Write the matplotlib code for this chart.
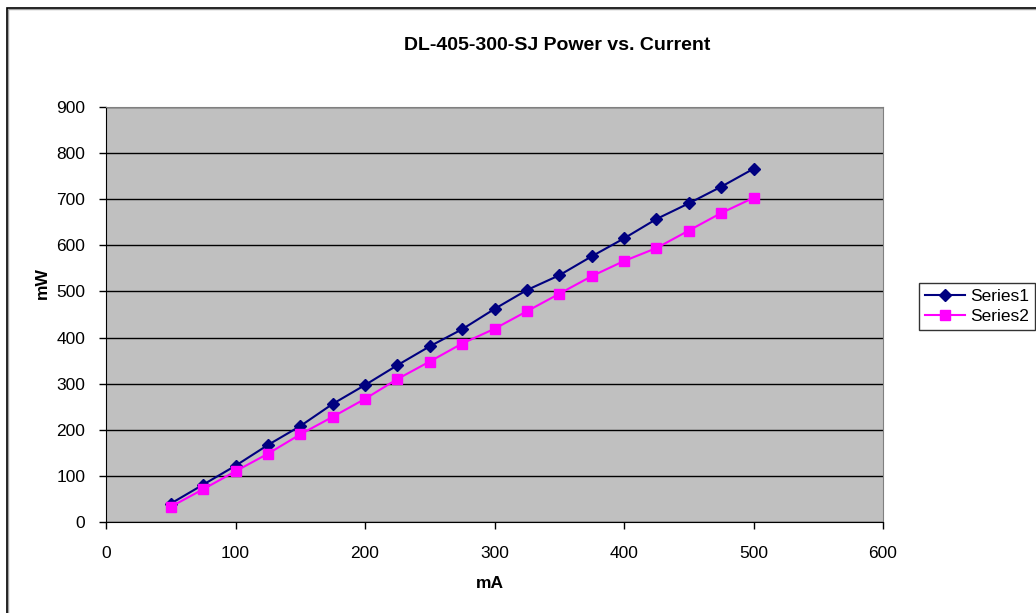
import matplotlib.pyplot as plt
from matplotlib.patches import Rectangle

current_ma = [50, 75, 100, 125, 150, 175, 200, 225, 250, 275, 300,
              325, 350, 375, 400, 425, 450, 475, 500]
series1_mw = [40, 81, 122, 167, 208, 256, 297, 340, 381, 418, 462,
              503, 535, 576, 615, 657, 691, 727, 766]
series2_mw = [33, 71, 110, 148, 190, 228, 267, 310, 348, 387, 419,
              457, 495, 533, 566, 594, 632, 670, 703]

x_ticks = [0, 100, 200, 300, 400, 500, 600]
y_ticks = [0, 100, 200, 300, 400, 500, 600, 700, 800, 900]

plt.rcParams["font.family"] = ["Liberation Sans", "DejaVu Sans"]

W, H = 1036, 613
fig = plt.figure(figsize=(W / 100, H / 100), dpi=100)
# plot area in pixels: x 106..883, y 107..522
ax = fig.add_axes([106 / W, 1 - 522 / H, (883 - 106) / W, (522 - 107) / H])
ax.set_facecolor("#c0c0c0")

ax.plot(current_ma, series1_mw, color="#000080", lw=1.5, marker="D",
        ms=6.5, mec="#000080", mfc="#000080", label="Series1", zorder=3)
ax.plot(current_ma, series2_mw, color="#ff00ff", lw=1.5, marker="s",
        ms=7, mec="#ff00ff", mfc="#ff00ff", label="Series2", zorder=3)

ax.set_xlim(0, 600)
ax.set_ylim(0, 900)
ax.set_xticks(x_ticks)
ax.set_yticks(y_ticks)
ax.yaxis.grid(True, color="black", lw=1.0)
ax.set_axisbelow(True)
ax.tick_params(direction="out", length=5, width=1, labelsize=12.5, pad=10)
ax.tick_params(axis="x", pad=12)

for side in ("top", "right"):
    ax.spines[side].set_color("#808080")
for side in ("left", "bottom"):
    ax.spines[side].set_color("black")

fig.text(490 / W, 1 - 584 / H, "mA", ha="center", va="center",
         fontsize=12.5, fontweight="bold")
fig.text(42 / W, 1 - 283 / H, "mW", ha="center", va="center",
         fontsize=12.5, fontweight="bold", rotation=90)
fig.text(557 / W, 1 - 45 / H, "DL-405-300-SJ Power vs. Current",
         ha="center", va="center", fontsize=14, fontweight="bold")

leg = fig.legend(loc="upper left", bbox_to_anchor=(919 / W, 1 - 283 / H),
                 frameon=True, fancybox=False, edgecolor="black",
                 fontsize=12.5, handlelength=2.3, borderpad=0.35,
                 labelspacing=0.25, handletextpad=0.3, borderaxespad=0)
leg.get_frame().set_linewidth(1.0)

# outer chart border (runs off the right and bottom edges), with grey shadow
fig.patches.append(Rectangle((8 / W, -10 / H), (1100 - 8) / W, (H - 9 + 10) / H,
                             transform=fig.transFigure, fill=False,
                             edgecolor="#a0a0a0", lw=1.0))
fig.patches.append(Rectangle((7 / W, -10 / H), (1100 - 7) / W, (H - 8 + 10) / H,
                             transform=fig.transFigure, fill=False,
                             edgecolor="black", lw=1.2))

fig.savefig("out.png", dpi=100)
